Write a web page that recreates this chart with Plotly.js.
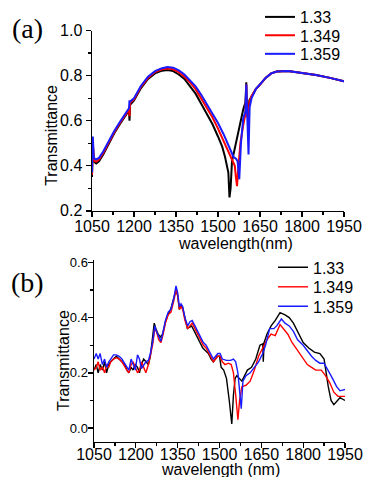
<!DOCTYPE html>
<html>
<head>
<meta charset="utf-8">
<script src="https://cdn.plot.ly/plotly-3.0.1.min.js"></script>
<style>html,body{margin:0;padding:0;background:#fff}#chart{width:367px;height:477px}</style>
</head>
<body>
<div id="chart"></div>
<script>
// ---------- Panel (a) ----------
const seriesNames = ["1.33", "1.349", "1.359"];
const seriesColors = ["#000000", "#ff0000", "#1a1aff"];

const wlA133 = [1050,1053,1056,1060,1065,1075,1090,1110,1130,1150,1170,1182,1184,1186,1200,1225,1250,1275,1300,1320,1340,1360,1380,1400,1420,1440,1460,1480,1500,1515,1525,1532,1537,1541,1545,1550,1560,1575,1590,1598,1601,1604,1608,1612,1620,1635,1650,1670,1690,1710,1750,1800,1850,1900,1950];
const tA133 = [0.35,0.50,0.43,0.415,0.41,0.42,0.45,0.50,0.545,0.585,0.625,0.645,0.60,0.67,0.69,0.745,0.785,0.81,0.822,0.825,0.82,0.805,0.785,0.755,0.72,0.675,0.63,0.585,0.53,0.485,0.44,0.40,0.37,0.26,0.30,0.42,0.48,0.56,0.65,0.68,0.77,0.62,0.64,0.69,0.71,0.74,0.76,0.79,0.81,0.818,0.82,0.813,0.803,0.79,0.775];

const wlA1349 = [1050,1053,1056,1060,1065,1075,1090,1110,1130,1150,1170,1182,1184,1186,1200,1225,1250,1275,1300,1320,1340,1360,1380,1400,1420,1440,1460,1480,1500,1520,1540,1555,1560,1564,1568,1572,1580,1590,1598,1601,1604,1608,1612,1620,1635,1650,1670,1690,1710,1750,1800,1850,1900,1950];
const tA1349 = [0.36,0.51,0.43,0.42,0.418,0.428,0.457,0.505,0.55,0.59,0.63,0.65,0.62,0.68,0.695,0.75,0.79,0.816,0.828,0.832,0.828,0.815,0.795,0.77,0.74,0.70,0.66,0.615,0.565,0.51,0.45,0.41,0.40,0.35,0.31,0.38,0.50,0.58,0.63,0.76,0.62,0.61,0.68,0.71,0.74,0.76,0.79,0.81,0.818,0.82,0.813,0.803,0.79,0.775];

const wlA1359 = [1050,1053,1056,1060,1065,1075,1090,1110,1130,1150,1170,1182,1184,1186,1200,1225,1250,1275,1300,1320,1340,1360,1380,1400,1420,1440,1460,1480,1500,1520,1540,1555,1565,1570,1576,1582,1590,1598,1601,1605,1609,1613,1620,1635,1650,1670,1690,1710,1750,1800,1850,1900,1950];
const tA1359 = [0.37,0.53,0.44,0.43,0.428,0.435,0.463,0.51,0.555,0.595,0.635,0.655,0.69,0.685,0.70,0.755,0.795,0.82,0.833,0.838,0.835,0.823,0.805,0.78,0.752,0.715,0.675,0.635,0.59,0.54,0.48,0.44,0.43,0.42,0.34,0.50,0.61,0.64,0.76,0.60,0.45,0.66,0.70,0.74,0.76,0.79,0.81,0.818,0.82,0.813,0.803,0.79,0.775];

// ---------- Panel (b) ----------
const wlB133 = [1050,1058,1065,1072,1080,1088,1095,1103,1110,1120,1130,1140,1150,1160,1168,1175,1183,1190,1198,1206,1213,1220,1228,1236,1245,1252,1260,1266,1272,1280,1288,1296,1305,1315,1325,1335,1344,1350,1356,1362,1368,1376,1385,1392,1400,1410,1420,1430,1440,1450,1460,1470,1478,1485,1492,1500,1506,1515,1525,1535,1544,1550,1556,1562,1570,1580,1590,1600,1615,1630,1645,1655,1657,1660,1670,1685,1700,1717,1735,1750,1765,1780,1800,1820,1840,1860,1875,1890,1900,1910,1920,1932,1950];
const tB133 = [0.21,0.23,0.20,0.23,0.21,0.24,0.20,0.23,0.24,0.25,0.26,0.25,0.24,0.23,0.21,0.20,0.22,0.21,0.23,0.22,0.20,0.23,0.25,0.24,0.23,0.26,0.33,0.38,0.36,0.34,0.33,0.34,0.38,0.41,0.43,0.47,0.50,0.48,0.43,0.44,0.435,0.40,0.36,0.365,0.37,0.35,0.33,0.31,0.29,0.28,0.27,0.25,0.24,0.25,0.26,0.26,0.22,0.21,0.18,0.10,0.015,0.12,0.18,0.19,0.18,0.17,0.19,0.21,0.22,0.25,0.30,0.305,0.24,0.31,0.34,0.37,0.39,0.418,0.41,0.40,0.38,0.35,0.31,0.29,0.275,0.27,0.25,0.15,0.10,0.085,0.095,0.11,0.10];

const wlB1349 = [1050,1058,1065,1072,1080,1088,1095,1103,1110,1120,1130,1140,1150,1160,1168,1175,1183,1190,1198,1206,1213,1220,1228,1236,1245,1252,1260,1268,1274,1282,1290,1298,1306,1316,1326,1336,1344,1350,1356,1362,1368,1376,1386,1394,1402,1412,1422,1432,1442,1452,1462,1470,1478,1486,1494,1502,1510,1520,1532,1542,1550,1558,1566,1572,1580,1595,1610,1625,1640,1655,1670,1685,1700,1717,1730,1745,1760,1780,1800,1815,1830,1845,1865,1880,1895,1910,1925,1950];
const tB1349 = [0.21,0.22,0.24,0.21,0.22,0.20,0.23,0.22,0.24,0.25,0.255,0.25,0.24,0.22,0.21,0.20,0.23,0.24,0.22,0.20,0.21,0.24,0.22,0.20,0.23,0.26,0.30,0.36,0.35,0.32,0.31,0.34,0.38,0.41,0.42,0.46,0.50,0.48,0.43,0.44,0.43,0.39,0.36,0.37,0.38,0.36,0.34,0.32,0.30,0.29,0.27,0.25,0.24,0.25,0.26,0.26,0.24,0.23,0.235,0.23,0.20,0.12,0.03,0.10,0.15,0.155,0.17,0.21,0.26,0.29,0.32,0.34,0.335,0.375,0.36,0.34,0.31,0.28,0.25,0.23,0.22,0.21,0.21,0.19,0.165,0.13,0.115,0.115];

const wlB1359 = [1050,1058,1065,1072,1080,1088,1095,1103,1110,1120,1130,1140,1150,1160,1168,1175,1183,1190,1198,1206,1213,1220,1228,1236,1245,1252,1260,1268,1274,1282,1290,1298,1306,1316,1326,1336,1344,1350,1356,1362,1368,1376,1386,1394,1402,1412,1422,1432,1442,1452,1462,1470,1478,1486,1494,1502,1510,1525,1540,1550,1558,1566,1572,1578,1584,1595,1610,1625,1640,1655,1665,1680,1695,1705,1722,1735,1750,1765,1780,1800,1815,1830,1845,1860,1875,1890,1905,1920,1932,1950];
const tB1359 = [0.25,0.27,0.25,0.27,0.23,0.25,0.22,0.24,0.25,0.265,0.265,0.26,0.25,0.235,0.22,0.21,0.25,0.23,0.21,0.265,0.25,0.215,0.23,0.24,0.245,0.27,0.31,0.37,0.35,0.33,0.315,0.35,0.39,0.42,0.43,0.47,0.515,0.49,0.44,0.45,0.44,0.40,0.37,0.385,0.39,0.37,0.35,0.33,0.31,0.30,0.28,0.26,0.25,0.26,0.27,0.27,0.25,0.245,0.245,0.25,0.24,0.20,0.14,0.07,0.17,0.19,0.20,0.22,0.24,0.27,0.30,0.36,0.36,0.37,0.395,0.38,0.37,0.35,0.32,0.30,0.28,0.26,0.245,0.235,0.235,0.21,0.18,0.15,0.135,0.14];

const xTicks = [1050,1200,1350,1500,1650,1800,1950];

const W = 367, H = 477;
const px = v => v / W;
const py = v => 1 - v / H;
const FONT = "Liberation Sans, Arial, sans-serif";

const legendIds = ["legend", "legend2", "legend3", "legend4", "legend5", "legend6"];

const traces = [
  {x: wlA133, y: tA133, k: 0, ax: 1},
  {x: wlA1349, y: tA1349, k: 1, ax: 1},
  {x: wlA1359, y: tA1359, k: 2, ax: 1},
  {x: wlB133, y: tB133, k: 0, ax: 2},
  {x: wlB1349, y: tB1349, k: 1, ax: 2},
  {x: wlB1359, y: tB1359, k: 2, ax: 2}
].map((t, i) => ({
  type: "scatter", mode: "lines", x: t.x, y: t.y, name: seriesNames[t.k],
  line: {color: seriesColors[t.k], width: t.ax === 1 ? 2 : 1.4},
  xaxis: t.ax === 1 ? "x" : "x2", yaxis: t.ax === 1 ? "y" : "y2",
  legend: legendIds[i]
}));

const axBase = {
  showgrid: false, zeroline: false, showline: true, linecolor: "#000", linewidth: 1.5,
  ticks: "outside", ticklen: 5, tickwidth: 1.3, tickcolor: "#000",
  minor: {ticks: "outside", ticklen: 3, tickwidth: 1.2, tickcolor: "#000"},
  tickfont: {family: FONT, size: 16, color: "#000"}, mirror: false
};

const legendRows = [[260, 5], [260, 24], [260, 43], [273, 262], [273, 282], [273, 302]];

const layout = {
  width: W, height: H, margin: {l: 0, r: 0, t: 0, b: 0},
  paper_bgcolor: "#fff", plot_bgcolor: "#fff", showlegend: true,
  font: {family: FONT, color: "#000"},
  xaxis: Object.assign({}, axBase, {domain: [px(92), px(344)], range: [1050, 1950], tickvals: xTicks, minor: Object.assign({}, axBase.minor, {dtick: 75, tick0: 1050}), anchor: "y", ticklabelstandoff: -5}),
  yaxis: Object.assign({}, axBase, {domain: [py(204), py(19)], range: [0.2, 1.0], dtick: 0.2, tick0: 0.2, tickformat: ".1f", minor: Object.assign({}, axBase.minor, {dtick: 0.1}), anchor: "x"}),
  xaxis2: Object.assign({}, axBase, {domain: [px(94), px(345)], range: [1050, 1950], tickvals: xTicks, minor: Object.assign({}, axBase.minor, {dtick: 75, tick0: 1050}), anchor: "y2", ticklabelstandoff: -8}),
  yaxis2: Object.assign({}, axBase, {domain: [py(441), py(254)], range: [-0.05, 0.61], tickvals: [0, 0.2, 0.4, 0.6], tickformat: ".1f", tickfont: {family: FONT, size: 13, color: "#000"}, minor: Object.assign({}, axBase.minor, {dtick: 0.1, tick0: 0}), anchor: "x2", ticklabelstandoff: -3}),
  annotations: [
    {text: "(a)", x: px(27), y: py(17), xref: "paper", yref: "paper", showarrow: false, xanchor: "center", yanchor: "middle", font: {family: "Liberation Serif, Times New Roman, serif", size: 28, color: "#000"}},
    {text: "(b)", x: px(27), y: py(277), xref: "paper", yref: "paper", showarrow: false, xanchor: "center", yanchor: "middle", font: {family: "Liberation Serif, Times New Roman, serif", size: 28, color: "#000"}},
    {text: "Transmittance", x: px(52), y: py(127), xref: "paper", yref: "paper", showarrow: false, textangle: -90, xanchor: "center", yanchor: "middle", font: {family: FONT, size: 16, color: "#000"}},
    {text: "Transmittance", x: px(64), y: py(358), xref: "paper", yref: "paper", showarrow: false, textangle: -90, xanchor: "center", yanchor: "middle", font: {family: FONT, size: 16, color: "#000"}},
    {text: "wavelength(nm)", x: px(235), y: py(237), xref: "paper", yref: "paper", showarrow: false, xanchor: "center", yanchor: "middle", font: {family: FONT, size: 16, color: "#000"}},
    {text: "wavelength (nm)", x: px(220), y: py(469), xref: "paper", yref: "paper", showarrow: false, xanchor: "center", yanchor: "middle", font: {family: FONT, size: 16, color: "#000"}}
  ]
};

legendIds.forEach((id, i) => {
  layout[id] = {x: px(legendRows[i][0]), y: py(legendRows[i][1]), xanchor: "left", yanchor: "middle",
    bgcolor: "rgba(0,0,0,0)", borderwidth: 0, itemwidth: 30,
    font: {family: FONT, size: 16, color: "#000"}};
});

Plotly.newPlot("chart", traces, layout, {staticPlot: true, displayModeBar: false});
</script>
</body>
</html>
